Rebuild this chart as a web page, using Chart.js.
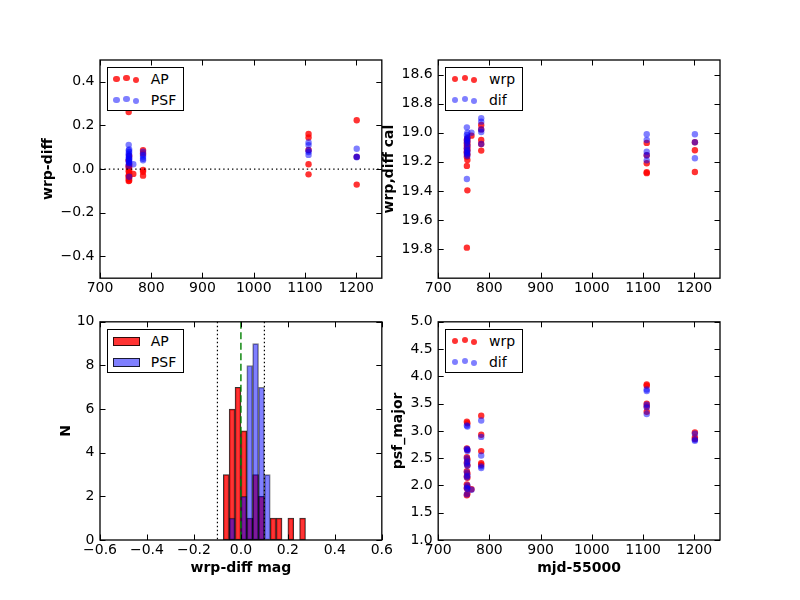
<!DOCTYPE html>
<html>
<head>
<meta charset="utf-8">
<script src="https://cdn.jsdelivr.net/npm/chart.js@4.4.0/dist/chart.umd.min.js"></script>
<style>
  html, body { margin: 0; padding: 0; background: #fff; }
  #wrap { position: relative; width: 800px; height: 600px; overflow: hidden; }
  #wrap canvas { position: absolute; left: 0; top: 0; }
  .legend { position: absolute; box-sizing: border-box; background: #fff; border: 1px solid #000;
            padding: 0 7px 0 0; font: 14px 'DejaVu Sans', sans-serif; color: #000; white-space: nowrap; }
  .legend .row { position: relative; height: 21px; line-height: 23px; padding-left: 42.5px; }
  .legend .dot { position: absolute; width: 6.4px; height: 6.4px; border-radius: 50%; }
  .legend .swatch { position: absolute; left: 4.4px; top: 7px; width: 27.6px; height: 8.5px;
                    box-sizing: border-box; border: 1px solid rgba(0,0,0,0.8); }
</style>
</head>
<body>
<div id="wrap">
  <canvas id="diffPlot" width="800" height="600"></canvas>
  <canvas id="calPlot" width="800" height="600"></canvas>
  <canvas id="histPlot" width="800" height="600"></canvas>
  <canvas id="majorPlot" width="800" height="600"></canvas>
</div>
<script>
// observation dates (mjd-55000) for the red (AP / wrp) and blue (PSF / dif) points
const mjdRed = [756, 757, 756, 757, 756, 757, 756, 757, 756, 757, 756, 757, 756, 757, 756, 757, 756,
                765, 784, 784, 784, 784, 784, 1107, 1107, 1107, 1107, 1107, 1201, 1201, 1201];
const mjdBlue = [756, 757, 756, 757, 756, 757, 756, 757, 756, 757, 756, 757, 756, 757, 756, 757,
                 765, 784, 784, 784, 784, 784, 1107, 1107, 1107, 1107, 1107, 1201, 1201, 1201];

// wrp-diff
const apDiff = [0.262, 0.060, 0.040, 0.020, 0.015, 0.010, 0.005, -0.005, -0.010, -0.020, -0.028, -0.030,
                -0.035, -0.040, -0.045, -0.052, -0.055,
                -0.022, 0.087, 0.072, -0.004, -0.012, -0.030,
                0.161, 0.145, 0.088, 0.022, -0.024, 0.224, 0.056, -0.071];
const psfDiff = [0.111, 0.090, 0.085, 0.078, 0.070, 0.065, 0.060, 0.052, 0.048, 0.045, 0.040, 0.035,
                 0.030, 0.028, 0.015, -0.035,
                 0.022, 0.080, 0.065, 0.057, 0.047, 0.040,
                 0.122, 0.110, 0.085, 0.078, 0.065, 0.093, 0.057, 0.054];

// wrp, diff cal
const wrpCal = [19.79, 19.396, 19.228, 19.187, 19.165, 19.15, 19.13, 19.12, 19.11, 19.10, 19.09, 19.08,
                19.07, 19.06, 19.05, 19.04, 19.14,
                19.02, 18.947, 18.977, 19.05, 19.077, 19.123,
                19.07, 19.155, 19.21, 19.272, 19.278, 19.065, 19.12, 19.27];
const difCal = [18.963, 19.00, 19.015, 19.03, 19.05, 19.06, 19.07, 19.09, 19.107, 19.12, 19.13, 19.14,
                19.15, 19.16, 19.318, 19.04,
                19.00, 18.90, 18.924, 18.977, 18.995, 19.077,
                19.01, 19.05, 19.13, 19.155, 19.19, 19.01, 19.065, 19.175];

// psf_major
const wrpMajor = [3.17, 3.14, 2.68, 2.65, 2.52, 2.48, 2.42, 2.37, 2.26, 2.22, 2.17, 2.14, 2.02, 1.98,
                  1.95, 1.85, 1.82,
                  1.93, 3.28, 2.93, 2.63, 2.41, 2.38,
                  3.85, 3.83, 3.50, 3.45, 3.35, 2.97, 2.88, 2.85];
const difMajor = [3.10, 3.08, 2.67, 2.63, 2.50, 2.44, 2.40, 2.36, 2.24, 2.18, 2.15, 2.00, 1.96, 1.94,
                  1.84, 2.66,
                  1.92, 3.19, 2.89, 2.55, 2.35, 2.32,
                  3.76, 3.73, 3.48, 3.43, 3.31, 2.95, 2.84, 2.82];

// histogram of wrp-diff (bin width 0.025)
const binCenters = [-0.0625, -0.0375, -0.0125, 0.0125, 0.0375, 0.0625, 0.0875, 0.1125, 0.1375, 0.1625,
                    0.1875, 0.2125, 0.2375, 0.2625];
const apCounts  = [3, 6, 7, 5, 1, 3, 2, 0, 1, 1, 0, 1, 0, 1];
const psfCounts = [0, 1, 0, 2, 8, 9, 7, 3, 0, 0, 0, 0, 0, 0];

// tick values
const mjdTicks = [700, 800, 900, 1000, 1100, 1200];
const diffTicks = [-0.4, -0.2, 0.0, 0.2, 0.4];
const calTicks = [18.6, 18.8, 19.0, 19.2, 19.4, 19.6, 19.8];
const histXTicks = [-0.6, -0.4, -0.2, 0.0, 0.2, 0.4, 0.6];
const histYTicks = [0, 2, 4, 6, 8, 10];
const majorTicks = [1.0, 1.5, 2.0, 2.5, 3.0, 3.5, 4.0, 4.5, 5.0];

const RED = 'rgba(255,0,0,0.8)';
const BLUE = 'rgba(0,0,255,0.5)';

Chart.defaults.font.family = "'DejaVu Sans', sans-serif";
Chart.defaults.font.size = 14;
Chart.defaults.color = '#000';

function fmt(v, dec) {
  return (v < 0 ? '\u2212' : '') + Math.abs(v).toFixed(dec);
}

function points(xs, ys) {
  return xs.map((x, i) => ({ x: x, y: ys[i] }));
}

// matplotlib style frame with inward ticks on all four sides
const frameTicks = {
  id: 'frameTicks',
  afterDatasetsDraw(chart) {
    const { ctx, chartArea: a } = chart;
    const x = chart.scales.x, y = chart.scales.y;
    const L = 5.5;
    ctx.save();
    ctx.strokeStyle = '#000';
    ctx.lineWidth = 1;
    ctx.beginPath();
    x.ticks.forEach(t => {
      const px = Math.round(x.getPixelForValue(t.value)) + 0.5;
      ctx.moveTo(px, a.bottom); ctx.lineTo(px, a.bottom - L);
      ctx.moveTo(px, a.top); ctx.lineTo(px, a.top + L);
    });
    y.ticks.forEach(t => {
      const py = Math.round(y.getPixelForValue(t.value)) + 0.5;
      ctx.moveTo(a.left, py); ctx.lineTo(a.left + L, py);
      ctx.moveTo(a.right, py); ctx.lineTo(a.right - L, py);
    });
    ctx.stroke();
    ctx.lineWidth = 1.3;
    ctx.strokeRect(a.left, a.top, a.right - a.left, a.bottom - a.top);
    ctx.restore();
  }
};

// axhline / axvline
const refLines = {
  id: 'refLines',
  afterDatasetsDraw(chart, args, opts) {
    const lines = opts.lines || [];
    const { ctx, chartArea: a } = chart;
    ctx.save();
    lines.forEach(l => {
      ctx.strokeStyle = l.color;
      ctx.lineWidth = l.width;
      ctx.setLineDash(l.dash);
      ctx.beginPath();
      if (l.axis === 'x') {
        const px = chart.scales.x.getPixelForValue(l.value);
        ctx.moveTo(px, a.top); ctx.lineTo(px, a.bottom);
      } else {
        const py = chart.scales.y.getPixelForValue(l.value);
        ctx.moveTo(a.left, py); ctx.lineTo(a.right, py);
      }
      ctx.stroke();
    });
    ctx.restore();
  }
};

// legend box inside the axes, upper left
const htmlLegend = {
  id: 'htmlLegend',
  afterUpdate(chart, args, opts) {
    if (!opts.kind) return;
    let box = chart.$legendEl;
    if (!box) {
      box = document.createElement('div');
      box.className = 'legend';
      document.getElementById('wrap').appendChild(box);
      chart.$legendEl = box;
    }
    box.innerHTML = '';
    const a = chart.chartArea;
    box.style.left = (a.left + 7.3) + 'px';
    box.style.top = (a.top + 7.3) + 'px';
    chart.data.datasets.forEach(ds => {
      const row = document.createElement('div');
      row.className = 'row';
      if (opts.kind === 'dots') {
        [[8.4, 0.2], [18.4, -0.8], [27.7, 1.4]].forEach(p => {
          const d = document.createElement('span');
          d.className = 'dot';
          d.style.left = (p[0] - 3.2) + 'px';
          d.style.top = (10.5 + p[1] - 3.2) + 'px';
          d.style.background = ds.backgroundColor;
          row.appendChild(d);
        });
      } else {
        const s = document.createElement('span');
        s.className = 'swatch';
        s.style.background = ds.backgroundColor;
        row.appendChild(s);
      }
      row.appendChild(document.createTextNode(ds.label));
      box.appendChild(row);
    });
  }
};

function axis(ax, dir, size) {
  return {
    type: 'linear',
    min: ax.min,
    max: ax.max,
    reverse: !!ax.reverse,
    offset: false,
    afterBuildTicks: s => { s.ticks = ax.ticks.map(v => ({ value: v })); },
    afterFit: s => { if (dir === 'x') s.height = size; else s.width = size; },
    grid: { display: false, drawTicks: false },
    border: { display: false },
    ticks: {
      color: '#000',
      padding: dir === 'x' ? 1.5 : 5.5,
      autoSkip: false,
      maxRotation: 0,
      callback: v => fmt(v, ax.dec)
    },
    title: ax.title ? {
      display: true,
      text: ax.title,
      color: '#000',
      font: { size: 14, weight: 'bold' },
      padding: dir === 'x' ? { top: 0, bottom: 3.6 } : { top: 0, bottom: 0 }
    } : { display: false }
  };
}

function panel(id, cfg) {
  const a = cfg.area;
  const xH = cfg.x.title ? 40 : 30;
  return new Chart(document.getElementById(id), {
    type: cfg.type,
    data: { datasets: cfg.datasets },
    options: {
      responsive: false,
      animation: false,
      events: [],
      layout: { padding: { left: cfg.yLeft, top: a.t, right: 800 - a.r, bottom: 600 - a.b - xH } },
      scales: {
        x: axis(cfg.x, 'x', xH),
        y: axis(cfg.y, 'y', a.l - cfg.yLeft)
      },
      plugins: {
        legend: { display: false },
        tooltip: { enabled: false },
        refLines: { lines: cfg.lines || [] },
        htmlLegend: { kind: cfg.legend }
      }
    },
    plugins: [refLines, frameTicks, htmlLegend]
  });
}

function scatterSets(redLabel, redY, blueLabel, blueY) {
  return [
    { label: redLabel, data: points(mjdRed, redY), backgroundColor: RED, pointRadius: 3.2,
      borderWidth: 0, order: 1 },
    { label: blueLabel, data: points(mjdBlue, blueY), backgroundColor: BLUE, pointRadius: 3.2,
      borderWidth: 0, order: 0 }
  ];
}

const topRow = { t: 60, b: 278.18 };
const botRow = { t: 321.82, b: 540 };

panel('diffPlot', {
  type: 'scatter',
  area: { l: 100, r: 381.82, t: topRow.t, b: topRow.b },
  yLeft: 40.1,
  datasets: scatterSets('AP', apDiff, 'PSF', psfDiff),
  x: { min: 700, max: 1250, ticks: mjdTicks, dec: 0 },
  y: { min: -0.5, max: 0.5, ticks: diffTicks, dec: 1, title: 'wrp-diff' },
  lines: [{ axis: 'y', value: 0, color: '#000', width: 1.2, dash: [1.4, 3] }],
  legend: 'dots'
});

panel('calPlot', {
  type: 'scatter',
  area: { l: 438.18, r: 720, t: topRow.t, b: topRow.b },
  yLeft: 381.1,
  datasets: scatterSets('wrp', wrpCal, 'dif', difCal),
  x: { min: 700, max: 1250, ticks: mjdTicks, dec: 0 },
  y: { min: 18.5, max: 20.0, reverse: true, ticks: calTicks, dec: 1, title: 'wrp,diff cal' },
  legend: 'dots'
});

panel('histPlot', {
  type: 'bar',
  area: { l: 100, r: 381.82, t: botRow.t, b: botRow.b },
  yLeft: 57.6,
  datasets: [
    { label: 'AP', data: points(binCenters, apCounts), backgroundColor: RED,
      borderColor: 'rgba(0,0,0,0.8)', borderWidth: 1, borderSkipped: false, grouped: false,
      barPercentage: 1, categoryPercentage: 1, order: 1 },
    { label: 'PSF', data: points(binCenters, psfCounts), backgroundColor: BLUE,
      borderColor: 'rgba(0,0,0,0.5)', borderWidth: 1, borderSkipped: false, grouped: false,
      barPercentage: 1, categoryPercentage: 1, order: 0 }
  ],
  x: { min: -0.6, max: 0.6, ticks: histXTicks, dec: 1, title: 'wrp-diff mag' },
  y: { min: 0, max: 10, ticks: histYTicks, dec: 0, title: 'N' },
  lines: [
    { axis: 'x', value: -0.1, color: '#000', width: 1.2, dash: [1.4, 2.6] },
    { axis: 'x', value: 0.1, color: '#000', width: 1.2, dash: [1.4, 2.6] },
    { axis: 'x', value: 0.0, color: '#008000', width: 1.4, dash: [7, 3.5] }
  ],
  legend: 'box'
});

panel('majorPlot', {
  type: 'scatter',
  area: { l: 438.18, r: 720, t: botRow.t, b: botRow.b },
  yLeft: 390.1,
  datasets: scatterSets('wrp', wrpMajor, 'dif', difMajor),
  x: { min: 700, max: 1250, ticks: mjdTicks, dec: 0, title: 'mjd-55000' },
  y: { min: 1.0, max: 5.0, ticks: majorTicks, dec: 1, title: 'psf_major' },
  legend: 'dots'
});
</script>
</body>
</html>
